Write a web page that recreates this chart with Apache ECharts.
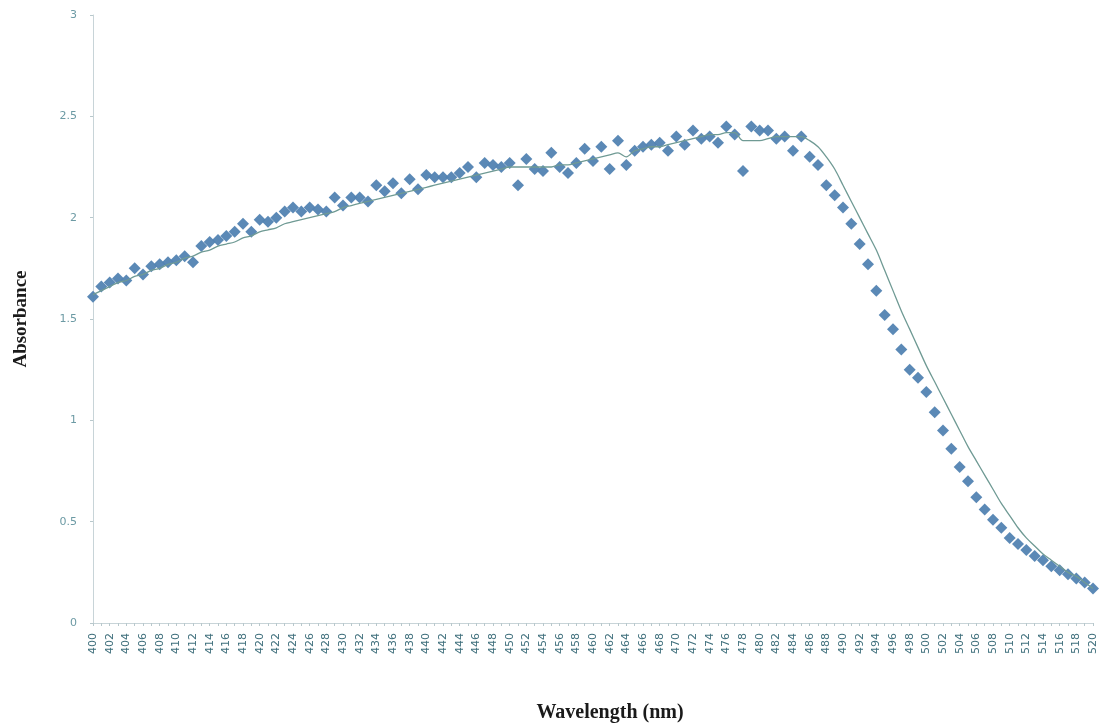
<!DOCTYPE html>
<html>
<head>
<meta charset="utf-8">
<script src="https://cdn.jsdelivr.net/npm/echarts@6/dist/echarts.min.js"></script>
<style>
html,body{margin:0;padding:0;background:#fff;}
#chart{width:1104px;height:728px;}
</style>
</head>
<body>
<div id="chart"></div>
<script>
// Wavelengths 400..520 nm (1 nm steps)
var wavelengths = [
 400,401,402,403,404,405,406,407,408,409,410,411,412,413,414,415,416,417,418,419,
 420,421,422,423,424,425,426,427,428,429,430,431,432,433,434,435,436,437,438,439,
 440,441,442,443,444,445,446,447,448,449,450,451,452,453,454,455,456,457,458,459,
 460,461,462,463,464,465,466,467,468,469,470,471,472,473,474,475,476,477,478,479,
 480,481,482,483,484,485,486,487,488,489,490,491,492,493,494,495,496,497,498,499,
 500,501,502,503,504,505,506,507,508,509,510,511,512,513,514,515,516,517,518,519,520
];
// Measured absorbance (diamonds)
var measured = [
 1.61,1.66,1.68,1.70,1.69,1.75,1.72,1.76,1.77,1.78,1.79,1.81,1.78,1.86,1.88,1.89,1.91,1.93,1.97,1.93,
 1.99,1.98,2.00,2.03,2.05,2.03,2.05,2.04,2.03,2.10,2.06,2.10,2.10,2.08,2.16,2.13,2.17,2.12,2.19,2.14,
 2.21,2.20,2.20,2.20,2.22,2.25,2.20,2.27,2.26,2.25,2.27,2.16,2.29,2.24,2.23,2.32,2.25,2.22,2.27,2.34,
 2.28,2.35,2.24,2.38,2.26,2.33,2.35,2.36,2.37,2.33,2.40,2.36,2.43,2.39,2.40,2.37,2.45,2.41,2.23,2.45,
 2.43,2.43,2.39,2.40,2.33,2.40,2.30,2.26,2.16,2.11,2.05,1.97,1.87,1.77,1.64,1.52,1.45,1.35,1.25,1.21,
 1.14,1.04,0.95,0.86,0.77,0.70,0.62,0.56,0.51,0.47,0.42,0.39,0.36,0.33,0.31,0.28,0.26,0.24,0.22,0.20,0.17
];
// Fitted / reference curve (line)
var fitted = [
 1.62,1.64,1.66,1.68,1.69,1.71,1.72,1.74,1.75,1.77,1.78,1.80,1.81,1.83,1.84,1.86,1.87,1.88,1.90,1.91,
 1.93,1.94,1.95,1.97,1.98,1.99,2.00,2.01,2.02,2.03,2.05,2.06,2.07,2.08,2.09,2.10,2.11,2.12,2.13,2.14,
 2.15,2.16,2.17,2.18,2.19,2.20,2.21,2.22,2.23,2.24,2.25,2.25,2.25,2.25,2.25,2.25,2.26,2.26,2.27,2.28,
 2.29,2.30,2.31,2.32,2.30,2.33,2.34,2.35,2.35,2.36,2.37,2.38,2.39,2.40,2.41,2.41,2.42,2.42,2.38,2.38,
 2.38,2.39,2.40,2.40,2.40,2.40,2.38,2.35,2.30,2.24,2.16,2.08,2.00,1.92,1.84,1.74,1.64,1.54,1.45,1.36,
 1.27,1.19,1.11,1.03,0.95,0.87,0.80,0.73,0.66,0.59,0.53,0.47,0.42,0.38,0.34,0.31,0.28,0.25,0.23,0.20,0.17
];
var yTicks = {min: 0, max: 3, interval: 0.5};

var chart = echarts.init(document.getElementById('chart'));
chart.setOption({
  animation: false,
  backgroundColor: '#ffffff',
  grid: {left: 93, right: 11, top: 15, bottom: 101, containLabel: false},
  xAxis: {
    type: 'category',
    data: wavelengths.map(String),
    boundaryGap: false,
    name: 'Wavelength (nm)',
    nameLocation: 'middle',
    nameGap: 80,
    nameTextStyle: {fontFamily: 'Liberation Serif', fontWeight: 'bold', fontSize: 20, color: '#1a1a1a', padding: [0, 0, 0, 34]},
    axisLine: {lineStyle: {color: '#c8d4d8', width: 1}},
    axisTick: {show: true, interval: 0, length: 3, lineStyle: {color: '#b8c8cc'}},
    axisLabel: {interval: 1, rotate: 90, margin: 10, fontSize: 11, fontFamily: 'DejaVu Sans', color: '#3f6f7c'},
    splitLine: {show: false}
  },
  yAxis: {
    type: 'value',
    min: yTicks.min, max: yTicks.max, interval: yTicks.interval,
    name: 'Absorbance',
    nameLocation: 'middle',
    nameGap: 62,
    nameRotate: 90,
    nameTextStyle: {fontFamily: 'Liberation Serif', fontWeight: 'bold', fontSize: 19, color: '#1a1a1a'},
    axisLine: {show: true, lineStyle: {color: '#c8d4d8', width: 1}},
    axisTick: {show: true, length: 3, lineStyle: {color: '#b8c8cc'}},
    axisLabel: {margin: 16, fontSize: 11, fontFamily: 'DejaVu Sans', color: '#6c9aa4'},
    splitLine: {show: false}
  },
  series: [
    {
      name: 'measured',
      type: 'scatter',
      data: measured,
      symbol: 'diamond',
      symbolSize: 12,
      itemStyle: {color: '#5283b2', opacity: 0.95},
      z: 2
    },
    {
      name: 'fitted',
      type: 'line',
      data: fitted,
      smooth: 0.3,
      showSymbol: false,
      symbol: 'none',
      lineStyle: {color: '#6f9a94', width: 1.3},
      z: 3
    }
  ]
});
</script>
</body>
</html>
